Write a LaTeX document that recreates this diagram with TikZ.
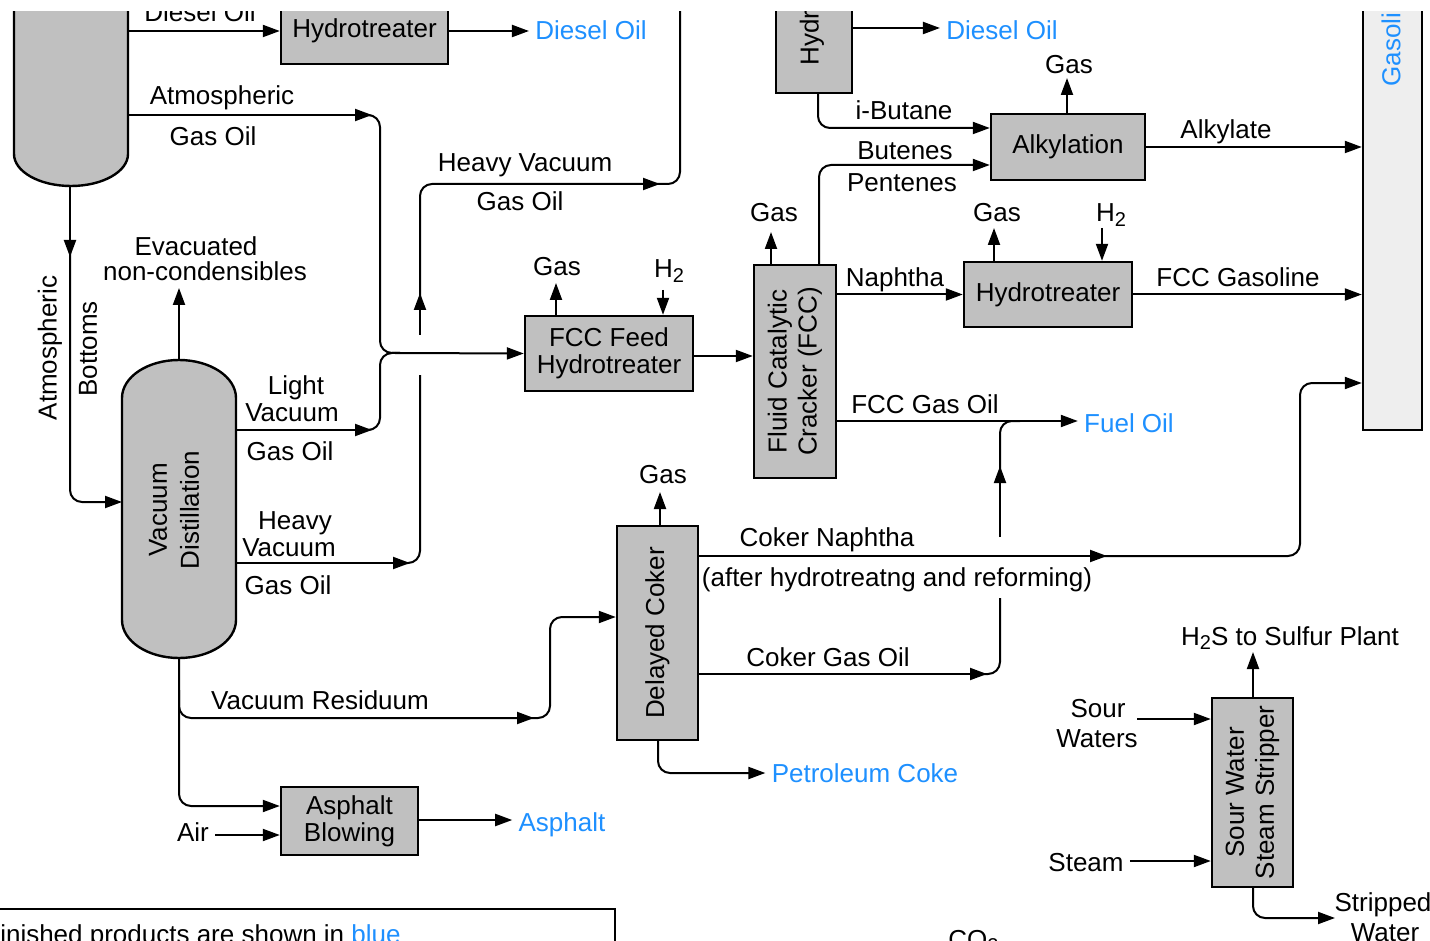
\documentclass[tikz,border=0pt]{standalone}
\usepackage{fontspec}
\setmainfont{Liberation Sans}
\usetikzlibrary{arrows.meta}
\definecolor{prod}{RGB}{30,144,255}
\definecolor{unitgray}{RGB}{192,192,192}
\definecolor{poolgray}{RGB}{238,238,238}
\newcommand\dfont{\fontsize{13}{13.5}\selectfont}
\newcommand\subtwo{\raisebox{-0.35ex}{\fontsize{10}{10}\selectfont 2}}
\begin{document}
\begin{tikzpicture}[x=0.5pt,y=-0.5pt,
  pipe/.style={line width=1pt, rounded corners=6pt},
  flow/.style={pipe, -{Triangle[length=8.5pt,width=6pt]}},
  unitbox/.style={draw, line width=1.2pt, fill=unitgray, inner sep=0pt, font=\dfont, align=center},
  lbl/.style={anchor=base, inner sep=3pt, font=\dfont},
  prodlbl/.style={lbl, text=prod},
  vtext/.style={rotate=90, font=\fontsize{13}{15}\selectfont, align=center, inner sep=0pt}]
\fill[white] (0,0) rectangle (1430,941);
\useasboundingbox (0,0) rectangle (1430,941);
\begin{scope}
\clip (0,12) rectangle (1430,941);

% ---- columns ----
\filldraw[fill=unitgray, line width=1.2pt] (14,-10) -- (14,154) .. controls (14,171.7) and (39.5,186) .. (71,186) .. controls (102.5,186) and (128,171.7) .. (128,154) -- (128,-10);
\filldraw[fill=unitgray, line width=1.2pt] (122,398) -- (122,620) .. controls (122,641) and (147.5,658) .. (179,658) .. controls (210.5,658) and (236,641) .. (236,620) -- (236,398) .. controls (236,377) and (210.5,360) .. (179,360) .. controls (147.5,360) and (122,377) .. (122,398) -- cycle;
\coordinate (atmE) at (128,0);
\coordinate (atmB) at (70,186);
\coordinate (vdT) at (179,360);
\coordinate (vdB) at (179,658);
\coordinate (vdW) at (122,0);
\coordinate (vdE) at (236,0);
\node[vtext, font=\fontsize{13}{16}\selectfont] (vdt) at (174,510) {Vacuum\\Distillation};

% ---- units ----
\node[unitbox, minimum width=83.5pt, minimum height=33pt] (ht1) at (364.5,31) {Hydrotreater};
\node[unitbox, minimum width=84pt, minimum height=37.5pt] (ffh) at (609,353.5) {FCC Feed\\Hydrotreater};
\node[unitbox, minimum width=41pt, minimum height=106.5pt] (fcc) at (795,371.5) {};
\node[vtext] (fcct) at (fcc) {Fluid Catalytic\\Cracker (FCC)};
\node[unitbox, minimum width=84pt, minimum height=32.5pt] (ht2) at (1048,294.5) {Hydrotreater};
\node[unitbox, minimum width=77pt, minimum height=33pt] (alk) at (1068,147) {Alkylation};
\node[unitbox, minimum width=38pt, minimum height=76.5pt] (hydr) at (814,16.5) {};
\node[vtext, anchor=west] (hydrt) at (812,66) {Hydrocracker};
\node[draw, line width=1.2pt, fill=poolgray, inner sep=0pt, minimum width=29.5pt, minimum height=265pt] (pool) at (1392.5,165) {};
\node[vtext, anchor=west, text=prod] (poolt) at (1391,87) {Gasoline};
\node[unitbox, minimum width=40.5pt, minimum height=107pt] (dc) at (657.5,633) {};
\node[vtext] (dct) at (dc) {Delayed Coker};
\node[unitbox, minimum width=68.5pt, minimum height=34pt] (ab) at (349.5,821) {Asphalt\\Blowing};
\node[unitbox, minimum width=40.5pt, minimum height=94.5pt] (sws) at (1252.5,792.5) {};
\node[vtext] (swst) at (sws) {Sour Water\\Steam Stripper};

% ---- top left ----
\node[lbl] (dslab) at (200,22) {Diesel Oil};
\draw[flow] (ht1.west -| atmE) -- (ht1.west);
\node[prodlbl] (d1) at (591,40) {Diesel Oil};
\draw[flow] (ht1.east) -- (ht1.east -| d1.west);

% atmospheric gas oil + light VGO
\node[lbl] (agoa) at (222,105) {Atmospheric};
\node[lbl] (agob) at (213,146) {Gas Oil};
\draw[flow] (atmE |- 0,115) -- (372,115);
\draw[pipe] (360,115) -- (380,115) -- (380,353) -- (400,353);
\node[lbl] (lva) at (296,394) {Light};
\node[lbl] (lvb) at (292,421) {Vacuum};
\node[lbl] (lvc) at (290,460) {Gas Oil};
\draw[flow] (vdE |- 0,430) -- (372,430);
\draw[pipe] (360,430) -- (380,430) -- (380,353) -- (400,353);
\draw[flow] (395,353) -- (ffh.west);

% heavy VGO
\node[lbl] (hva) at (295,529) {Heavy};
\node[lbl] (hvb) at (289,556) {Vacuum};
\node[lbl] (hvc) at (288,594) {Gas Oil};
\draw[flow] (vdE |- 0,563) -- (410,563);
\draw[pipe] (398,563) -- (420,563) -- (420,375);
\draw[flow] (420,335) -- (420,293);
\draw[flow] (420,300) -- (420,184) -- (660,184);
\draw[pipe] (648,184) -- (680,184) -- (680,0);
\node[lbl] (hvd) at (525,172) {Heavy Vacuum};
\node[lbl] (hve) at (520,211) {Gas Oil};

% atmospheric bottoms
\draw[flow] (atmB) -- (70,257);
\draw[flow] (70,245) -- (70,502) -- (vdW |- 0,502);
\node[rotate=90, inner sep=0pt, font=\dfont] (abota) at (50,348) {Atmospheric};
\node[rotate=90, inner sep=0pt, font=\dfont] (abotb) at (88,349) {Bottoms};

% evacuated
\node[lbl] (eva) at (196,256) {Evacuated};
\node[lbl] (evb) at (205,281) {non-condensibles};
\draw[flow] (vdT) -- (179,288);

% vacuum residuum
\node[lbl] (vrl) at (320,709) {Vacuum Residuum};
\draw[flow] (vdB) -- (179,718) -- (534,718);
\draw[flow] (520,718) -- (550,718) -- (550,617) -- (dc.west |- 0,617);
\draw[flow] (179,690) -- (179,806) -- (ab.west |- 0,806);
\node[lbl] (air) at (193,841) {Air};
\draw[flow] (air.east |- 0,835) -- (ab.west |- 0,835);
\node[prodlbl] (asp) at (562,831) {Asphalt};
\draw[flow] (ab.east |- 0,820) -- (asp.west |- 0,820);

% FCC feed hydrotreater
\node[lbl] (g1) at (557,276) {Gas};
\draw[flow] (ffh.north -| 556,0) -- (556,283);
\node[lbl] (h1) at (669,278) {H\subtwo};
\draw[flow] (663,290) -- (ffh.north -| 663,0);
\draw[flow] (ffh.east |- 0,356) -- (fcc.west |- 0,356);

% FCC
\node[lbl] (g2) at (774,222) {Gas};
\draw[flow] (fcc.north -| 771,0) -- (771,232);
\node[lbl] (but) at (905,160) {Butenes};
\node[lbl] (pen) at (902,192) {Pentenes};
\draw[flow] (fcc.north -| 819,0) -- (819,165) -- (alk.west |- 0,165);
\node[lbl] (nap) at (895,287) {Naphtha};
\draw[flow] (fcc.east |- ht2.west) -- (ht2.west);
\node[lbl] (fgo) at (925,413) {FCC Gas Oil};
\node[prodlbl] (fuel) at (1129,432) {Fuel Oil};
\draw[flow] (fcc.east |- 0,421) -- (fuel.west |- 0,421);

% hydrotreater 2
\node[lbl] (g3) at (997,222) {Gas};
\draw[flow] (ht2.north -| 994,0) -- (994,228);
\node[lbl] (h2) at (1111,222) {H\subtwo};
\draw[flow] (1102,228) -- (ht2.north -| 1102,0);
\node[lbl] (fccg) at (1238,287) {FCC Gasoline};
\draw[flow] (ht2.east) -- (ht2.east -| pool.west);

% alkylation
\node[lbl] (g4) at (1069,74) {Gas};
\draw[flow] (alk.north -| 1067,0) -- (1067,78);
\node[lbl] (alky) at (1226,139) {Alkylate};
\draw[flow] (alk.east) -- (alk.east -| pool.west);
\node[lbl] (ibu) at (904,120) {i-Butane};
\draw[flow] (hydr.south -| 818,0) -- (818,128) -- (alk.west |- 0,128);
\node[prodlbl] (d2) at (1002,40) {Diesel Oil};
\draw[flow] (hydr.east |- 0,28) -- (d2.west |- 0,28);

% delayed coker
\node[lbl] (g5) at (663,483) {Gas};
\draw[flow] (dc.north -| 660,0) -- (660,492);
\node[lbl] (cna) at (827,546) {Coker Naphtha};
\node[lbl] (cnb) at (897,586) {(after hydrotreatng and reforming)};
\draw[flow] (dc.east |- 0,556) -- (1107,556);
\draw[flow] (1095,556) -- (1300,556) -- (1300,383) -- (pool.west |- 0,383);
\node[lbl] (cgo) at (828,666) {Coker Gas Oil};
\draw[flow] (dc.east |- 0,674) -- (987,674);
\draw[pipe] (975,674) -- (1000,674) -- (1000,598);
\draw[flow] (1000,537) -- (1000,466);
\draw[pipe] (1000,478) -- (1000,421) -- (1020,421);
\node[prodlbl] (coke) at (865,782) {Petroleum Coke};
\draw[flow] (dc.south -| 658,0) -- (658,773) -- (coke.west |- 0,773);

% sour water stripper
\node[lbl] (h2s) at (1290,645) {H\subtwo S to Sulfur Plant};
\draw[flow] (sws.north -| 1253,0) -- (1253,652);
\node[lbl] (swa) at (1098,717) {Sour};
\node[lbl] (swb) at (1097,747) {Waters};
\draw[flow] (1137,719) -- (sws.west |- 0,719);
\node[lbl] (stm) at (1086,871) {Steam};
\draw[flow] (stm.east |- 0,861) -- (sws.west |- 0,861);
\node[lbl] (stra) at (1383,911) {Stripped};
\node[lbl] (strb) at (1385,941) {Water};
\draw[flow] (sws.south -| 1253,0) -- (1253,918) -- (1335,918);

% legend and cut-off text
\draw[line width=1.2pt] (-10,909) -- (615,909) -- (615,1000);
\node[anchor=base west, inner sep=0pt, font=\dfont] (leg) at (-16,943) {Finished products are shown in \textcolor{prod}{blue}};
\node[anchor=base west, inner sep=0pt, font=\dfont] (co2) at (948,948) {CO\subtwo};
\end{scope}
\end{tikzpicture}
\end{document}
